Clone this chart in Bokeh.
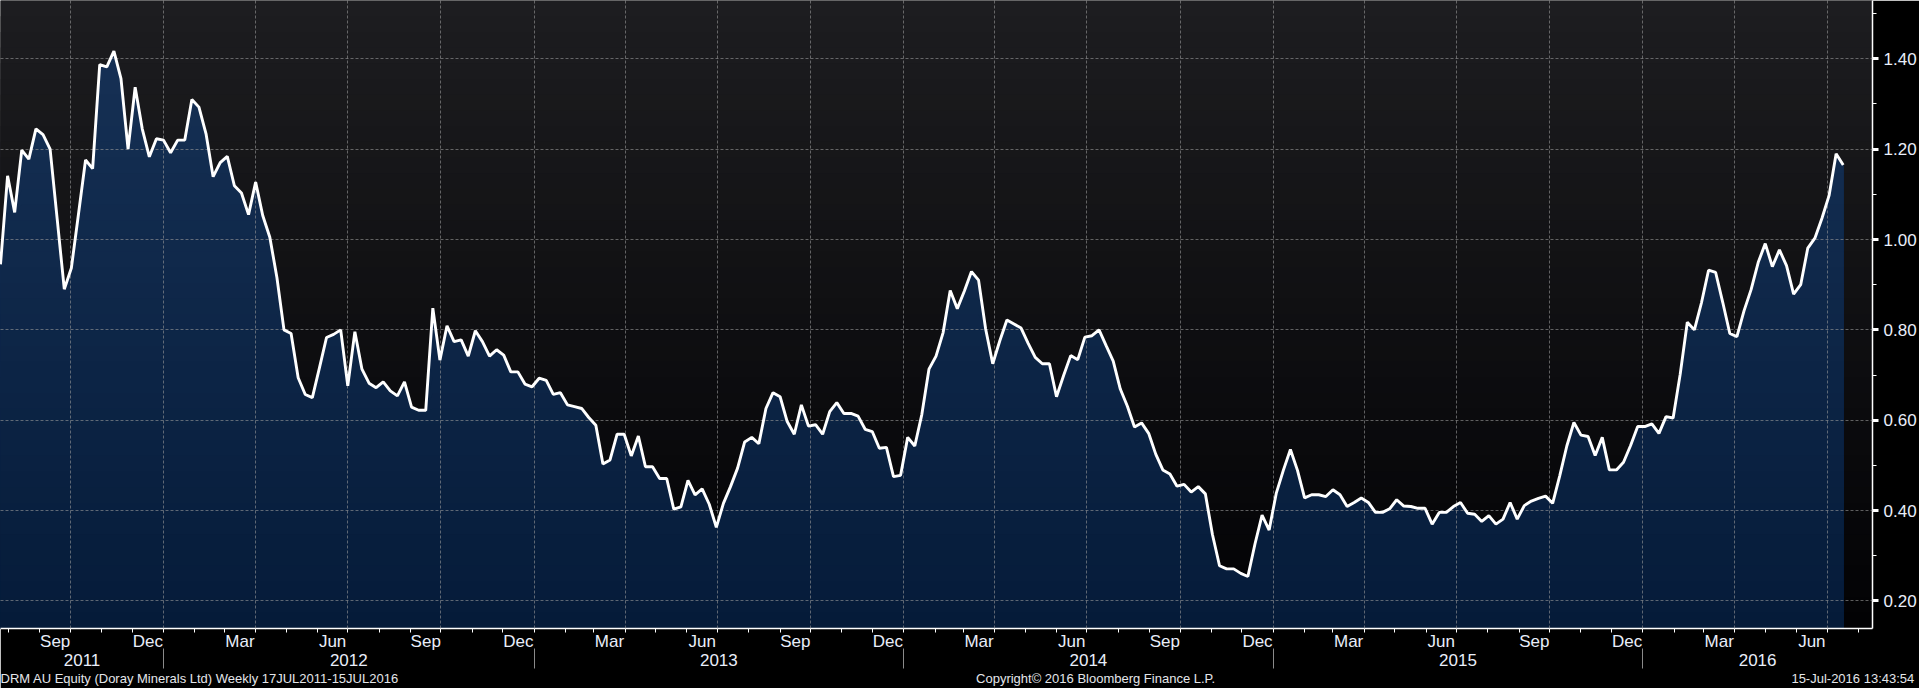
import numpy as np
import pandas as pd
from bokeh.plotting import figure
from bokeh.models import (Range1d, LinearAxis, FixedTicker, Grid, BoxAnnotation,
                          NumeralTickFormatter)
from bokeh.embed import file_html
from bokeh.resources import INLINE

# ---------------- data (weekly close, AUD) ----------------
first_week = "2011-07-24"
close_2011_12 = [
    0.945, 1.141, 1.06, 1.198, 1.178, 1.245, 1.232, 1.20, 1.045, 0.89,
    0.937, 1.056, 1.176, 1.157, 1.387, 1.382, 1.417, 1.356, 1.20, 1.337,
    1.245, 1.183, 1.223, 1.22, 1.192, 1.22, 1.22, 1.31, 1.293, 1.234,
    1.139, 1.17, 1.184, 1.119, 1.103, 1.055, 1.127, 1.053, 1.005, 0.916,
    0.80, 0.792, 0.694, 0.657, 0.65, 0.716, 0.783, 0.79, 0.80, 0.676,
    0.796, 0.713, 0.682, 0.672, 0.685, 0.665, 0.654, 0.685, 0.629, 0.622,
    0.622, 0.848, 0.733, 0.809, 0.774, 0.778, 0.742, 0.798, 0.774, 0.742,
    0.756,
]
close_2013_14 = [
    0.744, 0.707, 0.707, 0.680, 0.674, 0.693, 0.688, 0.657, 0.661,
    0.634, 0.630, 0.626, 0.606, 0.589, 0.503, 0.512, 0.569, 0.569, 0.521,
    0.565, 0.497, 0.497, 0.471, 0.471, 0.403, 0.408, 0.467, 0.435, 0.448,
    0.414, 0.363, 0.416, 0.453, 0.494, 0.552, 0.562, 0.548, 0.626, 0.661,
    0.652, 0.597, 0.569, 0.634, 0.587, 0.590, 0.569, 0.619, 0.639, 0.615,
    0.615, 0.609, 0.580, 0.575, 0.538, 0.540, 0.475, 0.478, 0.562, 0.543,
    0.613, 0.713, 0.742, 0.794, 0.887, 0.847, 0.886, 0.929, 0.910,
]
close_2014_15 = [
    0.802, 0.725, 0.776, 0.822, 0.813, 0.804, 0.770, 0.739, 0.725, 0.725,
    0.652, 0.699, 0.743, 0.734, 0.784, 0.787, 0.80, 0.765, 0.731, 0.669,
    0.631, 0.585, 0.594, 0.571, 0.525, 0.490, 0.481, 0.454, 0.458, 0.441,
    0.453, 0.437, 0.347, 0.278, 0.271, 0.271, 0.261, 0.254, 0.326, 0.390,
    0.357, 0.438, 0.489, 0.535, 0.489, 0.428, 0.435, 0.435, 0.431, 0.446,
    0.435, 0.409, 0.418, 0.428, 0.418, 0.396, 0.396, 0.404, 0.424, 0.410,
    0.409, 0.405, 0.405, 0.370, 0.396, 0.396, 0.409, 0.418, 0.394, 0.392,
]
close_2015_16 = [
    0.376, 0.389, 0.370, 0.381, 0.418, 0.381, 0.411, 0.421, 0.427, 0.432,
    0.416, 0.477, 0.543, 0.595, 0.567, 0.564, 0.522, 0.562, 0.490, 0.490,
    0.507, 0.544, 0.586, 0.586, 0.592, 0.571, 0.608, 0.605, 0.702, 0.817,
    0.800, 0.860, 0.932, 0.927, 0.861, 0.792, 0.785, 0.842, 0.889, 0.949,
    0.991, 0.940, 0.977, 0.942, 0.879, 0.900, 0.981, 1.003, 1.047, 1.097,
    1.190, 1.165,
]
close = close_2011_12 + close_2013_14 + close_2014_15 + close_2015_16

x_start = "2011-07-24"
x_end = "2016-08-14 22:00"
y_lo, y_hi = 0.139, 1.529
y_ticks = [0.2, 0.4, 0.6, 0.8, 1.0, 1.2, 1.4]
y_minor = [0.3, 0.5, 0.7, 0.9, 1.1, 1.3, 1.5]
month_labels = {3: "Mar", 6: "Jun", 9: "Sep", 12: "Dec"}
footer_texts = ["DRM AU Equity (Doray Minerals Ltd)  Weekly 17JUL2011-15JUL2016",
                "Copyright\u00a9 2016 Bloomberg Finance L.P.",
                "15-Jul-2016 13:43:54"]
footer_pos = [0.1068, 0.585, 0.9895]   # fraction of the time axis where each footer text is centred

# ---------------- helpers ----------------
def ms(ts):
    return float(pd.Timestamp(ts).value // 10**6)

def lerp(c1, c2, f):
    a = [int(c1[i:i + 2], 16) for i in (1, 3, 5)]
    b = [int(c2[i:i + 2], 16) for i in (1, 3, 5)]
    return "#%02x%02x%02x" % tuple(round(a[i] + (b[i] - a[i]) * f) for i in range(3))

dates = pd.date_range(first_week, periods=len(close), freq="7D")
close_arr = np.array(close)
xs, xe = ms(x_start), ms(x_end)

month_starts = pd.date_range("2011-07-01", "2016-09-01", freq="MS")
month_start_ms = [ms(d) for d in month_starts if xs <= ms(d) <= xe]
label_ticks, label_over = [], {}
for a, b in zip(month_starts[:-1], month_starts[1:]):
    if a.month in month_labels:
        mid = (ms(a) + ms(b)) / 2.0
        if xs <= mid <= xe:
            label_ticks.append(mid)
            label_over[mid] = month_labels[a.month]
quarter_ms = [ms(d) for d in month_starts if d.month in (1, 4, 7, 10) and xs < ms(d) < xe]

year_start_ms, year_ticks, year_over = [], [], {}
for yr in range(2011, 2017):
    a, b = ms(f"{yr}-01-01"), ms(f"{yr + 1}-01-01")
    if xs < a < xe:
        year_start_ms.append(a)
    mid = (max(a, xs) + min(b, xe)) / 2.0
    year_ticks.append(mid)
    year_over[mid] = str(yr)

foot_ticks = [xs + f * (xe - xs) for f in footer_pos]
foot_over = {t: s for t, s in zip(foot_ticks, footer_texts)}

FONT = "Liberation Sans"
TXT = "#e9eefa"

# ---------------- figure ----------------
p = figure(frame_width=1872, frame_height=628,
           x_range=Range1d(xs, xe), y_range=Range1d(y_lo, y_hi),
           x_axis_type=None, y_axis_type=None,
           toolbar_location=None, output_backend="svg",
           min_border_left=0, min_border_top=0, min_border_right=46, min_border_bottom=10,
           background_fill_color="#000000", border_fill_color="#000000",
           outline_line_color=None)

# background gradient (dark grey -> black)
nb = 40
span = y_hi - y_lo
for k in range(nb):
    top = y_hi - span * k / nb
    p.add_layout(BoxAnnotation(top=top, fill_color=lerp("#1d1d20", "#020204", (k + 0.5) / nb),
                               fill_alpha=1.0, line_color=None, level="underlay"))

# area gradient under the price line
for k in range(nb):
    top = y_hi - span * k / nb
    p.varea(x=dates, y1=y_lo, y2=np.minimum(close_arr, top),
            fill_color=lerp("#173257", "#051b39", (k + 0.5) / nb), fill_alpha=1.0, level="glyph")

# grids
p.add_layout(Grid(dimension=0, ticker=FixedTicker(ticks=quarter_ms), grid_line_color="#9a9a9a",
                  grid_line_alpha=0.6, grid_line_dash="3 2", level="guide"))
p.add_layout(Grid(dimension=1, ticker=FixedTicker(ticks=y_ticks), grid_line_color="#9a9a9a",
                  grid_line_alpha=0.6, grid_line_dash="3 2", level="guide"))

# price line
p.line(x=dates, y=close, line_color="#ffffff", line_width=2.9, level="overlay")

# right value axis
ay = LinearAxis(ticker=FixedTicker(ticks=y_ticks, minor_ticks=y_minor),
                formatter=NumeralTickFormatter(format="0.00"),
                axis_line_color="#ffffff", axis_line_width=1.5,
                major_tick_line_color="#ffffff", major_tick_line_width=3,
                major_tick_out=6, major_tick_in=0,
                minor_tick_line_color="#ffffff", minor_tick_out=4, minor_tick_in=0,
                major_label_standoff=5, major_label_text_color=TXT,
                major_label_text_font=FONT, major_label_text_font_size="17px")
p.add_layout(ay, "right")

# month axis
ax_m = LinearAxis(ticker=FixedTicker(ticks=label_ticks, minor_ticks=month_start_ms),
                  major_label_overrides=label_over,
                  axis_line_color="#ffffff", axis_line_width=1.5,
                  major_tick_line_color=None, major_tick_out=0, major_tick_in=0,
                  minor_tick_line_color="#ffffff", minor_tick_out=4, minor_tick_in=0,
                  major_label_standoff=-1, major_label_text_color=TXT,
                  major_label_text_font=FONT, major_label_text_font_size="17px")
p.add_layout(ax_m, "below")

# year axis (labels only)
ax_y = LinearAxis(ticker=FixedTicker(ticks=year_ticks),
                  major_label_overrides=year_over,
                  axis_line_color=None,
                  major_tick_line_color=None, major_tick_out=0, major_tick_in=0,
                  minor_tick_line_color=None, minor_tick_out=0, minor_tick_in=0,
                  major_label_standoff=0, major_label_text_color=TXT,
                  major_label_text_font=FONT, major_label_text_font_size="17px")
p.add_layout(ax_y, "below")

# footer axis: year separators drawn upward, footer texts as labels
ax_f = LinearAxis(ticker=FixedTicker(ticks=foot_ticks, minor_ticks=year_start_ms),
                  major_label_overrides=foot_over,
                  axis_line_color=None,
                  major_tick_line_color=None, major_tick_out=0, major_tick_in=0,
                  minor_tick_line_color="#8a8a8a", minor_tick_out=0, minor_tick_in=20,
                  minor_tick_line_width=1,
                  major_label_standoff=2, major_label_text_color="#e4e6ea",
                  major_label_text_font=FONT, major_label_text_font_size="13px")
p.add_layout(ax_f, "below")

open("out.html", "w").write(file_html(p, INLINE))
